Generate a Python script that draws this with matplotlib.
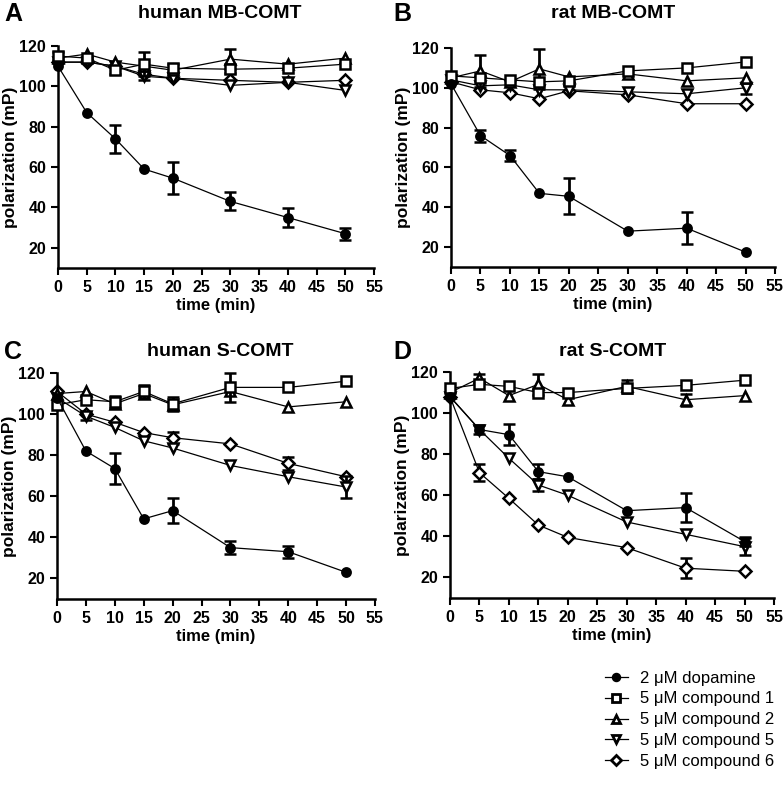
import numpy as np
import matplotlib
matplotlib.use('Agg')
import matplotlib.pyplot as plt
from matplotlib.lines import Line2D

plt.rcParams['font.family'] = ['Liberation Sans', 'DejaVu Sans']
plt.rcParams['font.weight'] = 'bold'
plt.rcParams['xtick.major.size'] = 5
plt.rcParams['xtick.major.width'] = 1.5
plt.rcParams['ytick.major.size'] = 5
plt.rcParams['ytick.major.width'] = 1.5

t = [0, 5, 10, 15, 20, 30, 40, 50]

# A - human MB-COMT
a_dopa = [110, 87, 74, 59, 54.5, 43, 35, 27]
a_dopa_err = [0, 0, 7, 0, 8, 4.5, 4.5, 3]
a_c1 = [115, 114, 108, 111, 109, 108.5, 109, 111]
a_c1_err = [2, 0, 2, 6, 2, 2, 0, 0]
a_c2 = [114, 116, 112, 110, 108, 113.5, 111, 114]
a_c2_err = [0, 0, 0, 0, 0, 5, 0, 0]
a_c5 = [112, 112, 110, 105, 104, 100.5, 102, 98]
a_c5_err = [0, 0, 0, 2, 0, 0, 0, 0]
a_c6 = [112, 112, 110, 106, 104, 103, 102, 103]
a_c6_err = [0, 0, 0, 0, 0, 0, 0, 0]

# B - rat MB-COMT
b_dopa = [102, 76, 66, 47, 45.5, 28, 29.5, 17.5]
b_dopa_err = [0, 3, 3, 0, 9, 0, 8, 0]
b_c1 = [106, 105, 104, 103, 103.5, 108.5, 110, 113]
b_c1_err = [0, 0, 0, 0, 0, 0, 0, 0]
b_c2 = [105, 108.5, 103, 109.5, 105.5, 107, 103.5, 105]
b_c2_err = [0, 8, 0, 10, 0, 0, 0, 0]
b_c5 = [104, 101, 101.5, 99, 99, 98, 97, 100]
b_c5_err = [0, 0, 0, 0, 0, 0, 0, 3]
b_c6 = [103, 99, 97.5, 94.5, 98.5, 96.5, 92, 92]
b_c6_err = [0, 0, 0, 0, 0, 0, 0, 0]

# C - human S-COMT
c_dopa = [108, 82, 73.5, 49, 53, 35, 33, 23]
c_dopa_err = [0, 0, 7.5, 0, 6, 3, 3, 0]
c_c1 = [104.5, 107, 106, 111, 105, 113, 113, 116]
c_c1_err = [0, 0, 3, 3, 3.5, 7, 0, 0]
c_c2 = [110, 111, 105, 110, 104.5, 111, 103.5, 106]
c_c2_err = [0, 0, 0, 0, 0, 0, 0, 0]
c_c5 = [108, 99, 93.5, 87, 83.5, 75, 69.5, 64.5]
c_c5_err = [0, 2, 0, 0, 0, 0, 0, 5.5]
c_c6 = [111, 100, 96, 91, 88.5, 85.5, 76, 69.5]
c_c6_err = [0, 0, 0, 0, 3, 0, 3, 0]

# D - rat S-COMT
d_dopa = [108, 92, 89.5, 71.5, 69, 52.5, 54, 37.5]
d_dopa_err = [0, 0, 5, 3.5, 0, 0, 7, 2]
d_c1 = [112, 114, 113, 110, 110, 112, 113.5, 116]
d_c1_err = [0, 0, 0, 0, 0, 0, 0, 0]
d_c2 = [110, 117, 108.5, 114, 106.5, 113, 106.5, 108.5]
d_c2_err = [0, 2, 0, 5, 0, 3, 3, 0]
d_c5 = [108, 92, 78, 65, 60, 47, 41, 35]
d_c5_err = [0, 2, 0, 3, 0, 0, 0, 4]
d_c6 = [108, 71, 58.5, 45.5, 39.5, 34.5, 24.5, 23]
d_c6_err = [0, 4, 0, 0, 0, 0, 5, 0]

labels = ['2 \u03bcM dopamine', '5 \u03bcM compound 1', '5 \u03bcM compound 2',
          '5 \u03bcM compound 5', '5 \u03bcM compound 6']
markers = ['o', 's', '^', 'v', 'D']
msizes = [6, 6.5, 7, 7, 6]
fills = ['black', 'white', 'white', 'white', 'white']

fig = plt.figure(figsize=(7.84, 7.86), dpi=100)
W, H = 784.0, 786.0


def make_ax(left, right, top, bottom):
    return fig.add_axes([left / W, 1 - bottom / H, (right - left) / W, (bottom - top) / H])


def panel(ax, series, letter, title, lx, tx, ty):
    for i, (y, e) in enumerate(series):
        e = np.array(e, dtype=float)
        ax.errorbar(t, y, yerr=np.where(e > 0, e, np.nan), color='black', lw=0.9,
                    marker=markers[i], ms=msizes[i], mfc=fills[i], mec='black', mew=1.8,
                    elinewidth=2, capsize=4, capthick=2, clip_on=False,
                    zorder=5 - i if i else 6)
    ax.set_xlim(0, 55)
    ax.set_ylim(10, 120)
    ax.set_xticks(np.arange(0, 56, 5))
    ax.set_yticks([20, 40, 60, 80, 100, 120])
    ax.spines['top'].set_visible(False)
    ax.spines['right'].set_visible(False)
    ax.spines['left'].set_linewidth(1.8)
    ax.spines['bottom'].set_linewidth(1.8)
    for lab in ax.get_xticklabels() + ax.get_yticklabels():
        lab.set_fontweight('bold')
        lab.set_fontsize(11.5)
    ax.set_xlabel('time (min)', fontsize=12, fontweight='bold', labelpad=2)
    ax.set_ylabel('polarization (mP)', fontsize=12.5, fontweight='bold', labelpad=1)
    fig.text(lx / W, 1 - ty / H, letter, fontsize=18, fontweight='bold', va='center', ha='left')
    fig.text(tx / W, 1 - ty / H, title, fontsize=14, fontweight='bold', va='center', ha='center')


axA = make_ax(58, 374, 46, 268)
axB = make_ax(451, 775, 48, 267)
axC = make_ax(57, 375, 373, 599)
axD = make_ax(450, 774, 372, 598)

panel(axA, [(a_dopa, a_dopa_err), (a_c1, a_c1_err), (a_c2, a_c2_err), (a_c5, a_c5_err), (a_c6, a_c6_err)],
      'A', 'human MB-COMT', 4, 220, 14)
panel(axB, [(b_dopa, b_dopa_err), (b_c1, b_c1_err), (b_c2, b_c2_err), (b_c5, b_c5_err), (b_c6, b_c6_err)],
      'B', 'rat MB-COMT', 393, 613, 14)
panel(axC, [(c_dopa, c_dopa_err), (c_c1, c_c1_err), (c_c2, c_c2_err), (c_c5, c_c5_err), (c_c6, c_c6_err)],
      'C', 'human S-COMT', 4, 220, 352)
panel(axD, [(d_dopa, d_dopa_err), (d_c1, d_c1_err), (d_c2, d_c2_err), (d_c5, d_c5_err), (d_c6, d_c6_err)],
      'D', 'rat S-COMT', 393, 613, 352)

handles = [Line2D([], [], color='black', lw=0.9, marker=markers[i], ms=msizes[i] * 0.8,
                  mfc=fills[i], mec='black', mew=2) for i in range(5)]
leg = fig.legend(handles, labels, loc='upper left', bbox_to_anchor=(598 / W, 1 - 664 / H),
                 frameon=False, fontsize=12, handlelength=1.4, handletextpad=0.7,
                 labelspacing=0.35, borderaxespad=0)
for txt in leg.get_texts():
    txt.set_fontweight('normal')

fig.savefig('out.png', dpi=100)
